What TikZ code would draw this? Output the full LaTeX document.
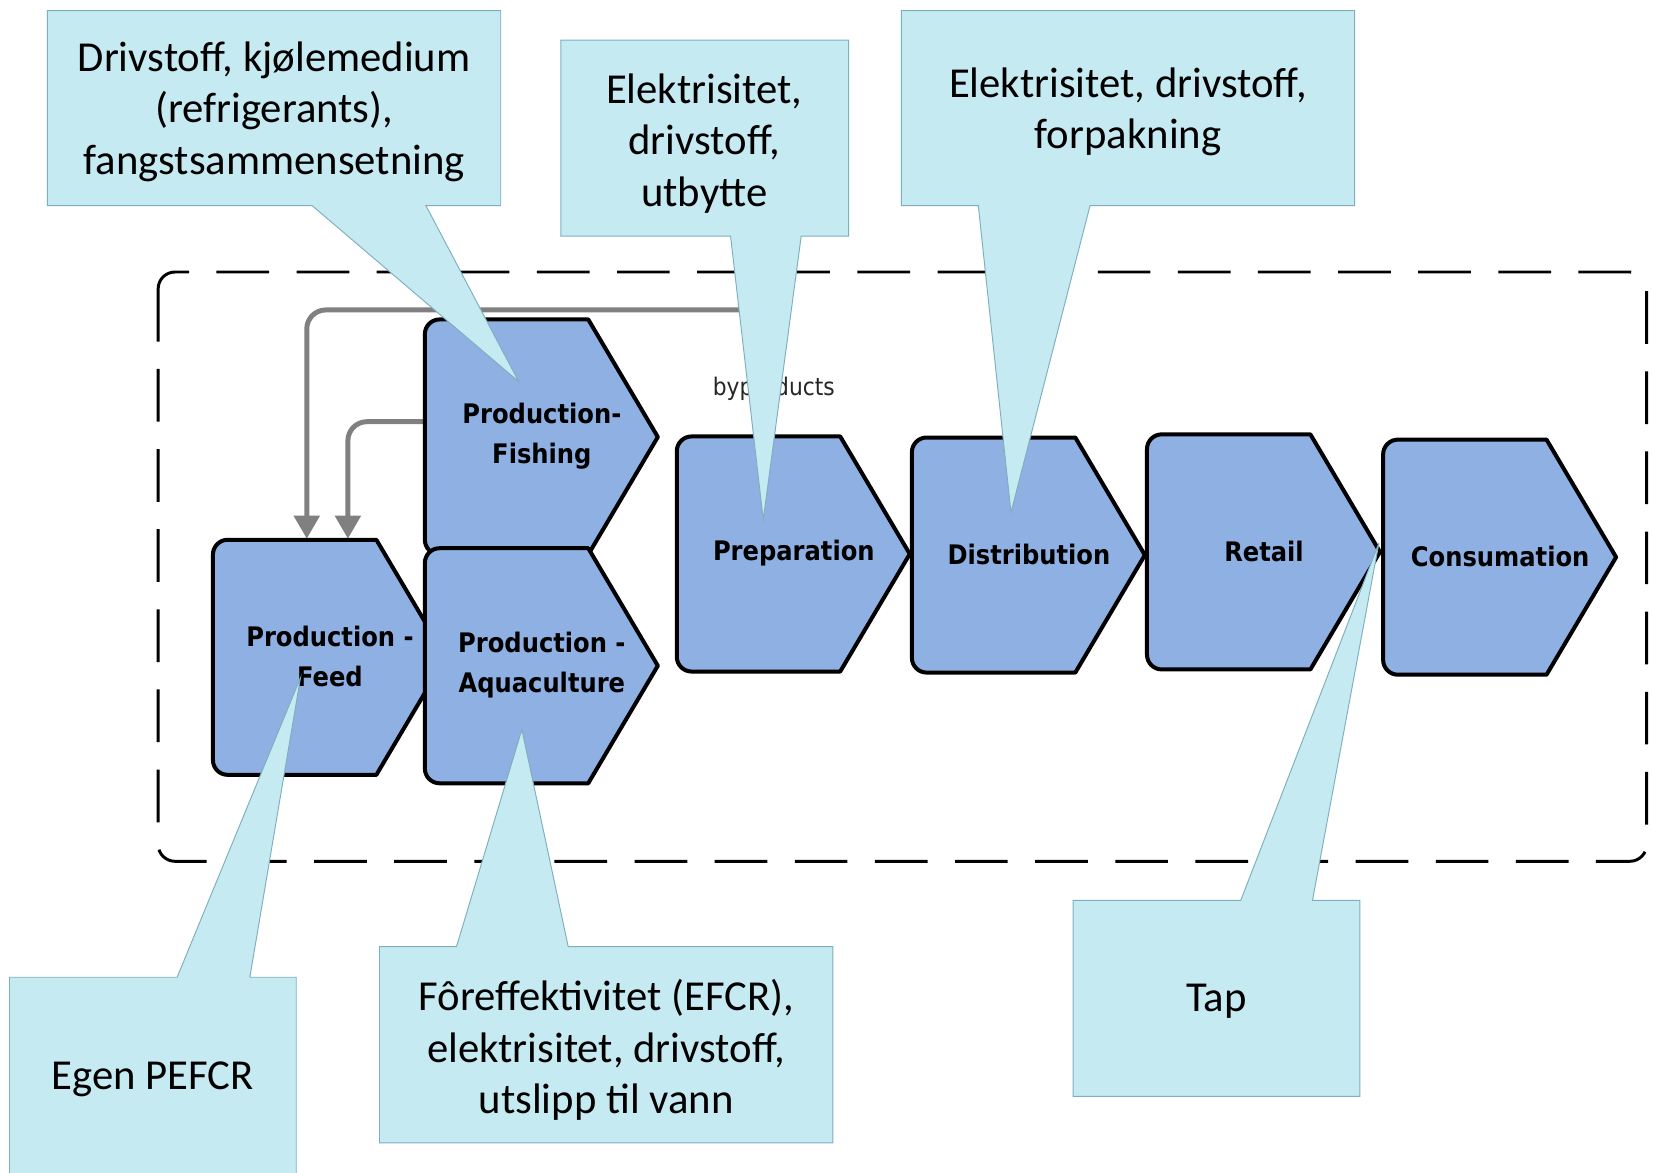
\documentclass[tikz,border=0pt]{standalone}
\usepackage{fontspec}
\setmainfont{Carlito}
\newfontfamily\chevfont{DejaVu Sans Condensed}
\usetikzlibrary{arrows.meta}
\definecolor{chevfill}{RGB}{142,176,226}
\definecolor{callfill}{RGB}{198,234,242}
\definecolor{calldraw}{RGB}{125,175,188}
\definecolor{arrgray}{RGB}{128,128,128}
\newcommand\mychev[4]{%
  \draw[chev] ({#2+80},#3) -- ({#2+155},#3) -- ({#2+221},{#3+111.5}) -- ({#2+155},{#3+223}) -- ({#2+80},{#3+223}) [rounded corners=14pt] -- (#2,{#3+223}) -- (#2,#3) -- cycle;
  \node[chevtext] (#1) at ({#2+111},{#3+111}) {#4};
}
\begin{document}
\begin{tikzpicture}[x=1pt,y=-1pt,
  chev/.style={draw=black, line width=3.8pt, fill=chevfill, line join=round},
  chevtext/.style={align=center, font=\chevfont\bfseries\fontsize{25.5}{38}\selectfont, inner sep=0pt},
  call/.style={draw=calldraw, line width=0.9pt, fill=callfill},
  calltext/.style={align=center, font=\fontsize{40.5}{49}\selectfont, inner sep=0pt},
  garrow/.style={draw=arrgray, line width=4.7pt, rounded corners=18pt, -{Triangle[width=24pt,length=22pt]}},
  dbox/.style={draw=black, line width=2.8pt, dash pattern=on 50pt off 26pt, rounded corners=16pt}]
\useasboundingbox (0,0) rectangle (1568,1112);
% dashed system boundary
\draw[dbox] (150,258) rectangle (1562,817);
% arrows (byproducts back to feed)
\coordinate (a1s) at (712,294);
\coordinate (ft1) at (291,511);
\coordinate (fw) at (405,400);
\coordinate (ft2) at (330,511);
\draw[garrow] (a1s) -| (ft1);
\draw[garrow] (fw) -| (ft2);
% chevrons
\mychev{feed}{202}{512}{Production -\\Feed}
\mychev{fish}{403}{303}{Production-\\Fishing}
\mychev{aqua}{403}{520}{Production -\\Aquaculture}
\mychev{prep}{642}{414}{Preparation}
\mychev{dist}{865}{415}{Distribution}
\mychev{ret}{1088}{412}{Retail}
\mychev{cons}{1312}{417}{Consumation}
\node[font=\chevfont\fontsize{23}{26}\selectfont, text=black!85] (byp) at (734,369) {byproducts};
% callouts
\draw[call] (45,10) -- (475,10) -- (475,195) -- (404,195) -- (492,362) -- (296,195) -- (45,195) -- cycle;
\node[calltext] (cA) at (260,106) {Drivstoff, kjølemedium\\(refrigerants),\\fangstsammensetning};
\draw[call] (532,38) -- (805,38) -- (805,224) -- (760,224) -- (724,493) -- (693,224) -- (532,224) -- cycle;
\node[calltext] (cB) at (668,136) {Elektrisitet,\\drivstoff,\\utbytte};
\draw[call] (855,10) -- (1285,10) -- (1285,195) -- (1034,195) -- (959,486) -- (928,195) -- (855,195) -- cycle;
\node[calltext] (cC) at (1070,106) {Elektrisitet, drivstoff,\\forpakning};
\draw[call] (9,927) -- (168,927) -- (285,643) -- (237,927) -- (281,927) -- (281,1116) -- (9,1116) -- cycle;
\node[calltext] (cD) at (145,1024) {Egen PEFCR};
\draw[call] (360,898) -- (433,898) -- (495,692) -- (539,898) -- (790,898) -- (790,1084) -- (360,1084) -- cycle;
\node[calltext] (cE) at (575,996) {Fôreffektivitet (EFCR),\\elektrisitet, drivstoff,\\utslipp til vann};
\draw[call] (1018,854) -- (1177,854) -- (1308,515) -- (1245,854) -- (1290,854) -- (1290,1040) -- (1018,1040) -- cycle;
\node[calltext] (cF) at (1154,950) {Tap};
\end{tikzpicture}
\end{document}
